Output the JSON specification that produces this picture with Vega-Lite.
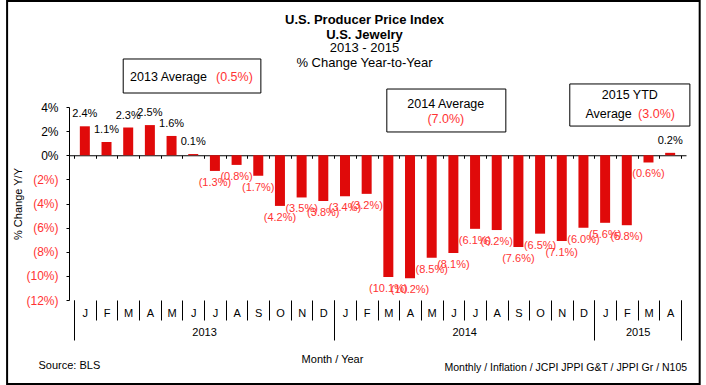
{
  "$schema": "https://vega.github.io/schema/vega-lite/v6.json",
  "width": 617,
  "height": 193,
  "autosize": {"type": "none"},
  "padding": {"left": 69, "top": 107, "right": 20, "bottom": 85},
  "background": "white",
  "config": {
    "font": "Liberation Sans",
    "view": {"stroke": null},
    "axis": {"grid": false, "labelFont": "Liberation Sans", "titleFont": "Liberation Sans", "labelColor": "black", "titleColor": "black", "tickColor": "black", "domainColor": "black", "titleFontWeight": "normal", "labelFlush": false, "labelOverlap": false}
  },
  "title": {
    "text": ["U.S. Producer Price Index", "U.S. Jewelry"],
    "subtitle": ["2013 - 2015", "% Change Year-to-Year"],
    "font": "Liberation Sans",
    "fontSize": 13,
    "fontWeight": "bold",
    "color": "black",
    "lineHeight": 15,
    "subtitleFont": "Liberation Sans",
    "subtitleFontSize": 13,
    "subtitleColor": "black",
    "subtitleLineHeight": 15,
    "subtitlePadding": 0,
    "anchor": "middle",
    "dx": -13,
    "offset": -70
  },
  "datasets": {
    "ppi": [
      {"month_no": 0, "month": "J", "year": "2013", "pct": 2.4, "label": "2.4%"},
      {"month_no": 1, "month": "F", "year": "2013", "pct": 1.1, "label": "1.1%"},
      {"month_no": 2, "month": "M", "year": "2013", "pct": 2.3, "label": "2.3%"},
      {"month_no": 3, "month": "A", "year": "2013", "pct": 2.5, "label": "2.5%"},
      {"month_no": 4, "month": "M", "year": "2013", "pct": 1.6, "label": "1.6%"},
      {"month_no": 5, "month": "J", "year": "2013", "pct": 0.1, "label": "0.1%"},
      {"month_no": 6, "month": "J", "year": "2013", "pct": -1.3, "label": "(1.3%)"},
      {"month_no": 7, "month": "A", "year": "2013", "pct": -0.8, "label": "(0.8%)"},
      {"month_no": 8, "month": "S", "year": "2013", "pct": -1.7, "label": "(1.7%)"},
      {"month_no": 9, "month": "O", "year": "2013", "pct": -4.2, "label": "(4.2%)"},
      {"month_no": 10, "month": "N", "year": "2013", "pct": -3.5, "label": "(3.5%)"},
      {"month_no": 11, "month": "D", "year": "2013", "pct": -3.8, "label": "(3.8%)"},
      {"month_no": 12, "month": "J", "year": "2014", "pct": -3.4, "label": "(3.4%)"},
      {"month_no": 13, "month": "F", "year": "2014", "pct": -3.2, "label": "(3.2%)"},
      {"month_no": 14, "month": "M", "year": "2014", "pct": -10.1, "label": "(10.1%)"},
      {"month_no": 15, "month": "A", "year": "2014", "pct": -10.2, "label": "(10.2%)"},
      {"month_no": 16, "month": "M", "year": "2014", "pct": -8.5, "label": "(8.5%)"},
      {"month_no": 17, "month": "J", "year": "2014", "pct": -8.1, "label": "(8.1%)"},
      {"month_no": 18, "month": "J", "year": "2014", "pct": -6.1, "label": "(6.1%)"},
      {"month_no": 19, "month": "A", "year": "2014", "pct": -6.2, "label": "(6.2%)"},
      {"month_no": 20, "month": "S", "year": "2014", "pct": -7.6, "label": "(7.6%)"},
      {"month_no": 21, "month": "O", "year": "2014", "pct": -6.5, "label": "(6.5%)"},
      {"month_no": 22, "month": "N", "year": "2014", "pct": -7.1, "label": "(7.1%)"},
      {"month_no": 23, "month": "D", "year": "2014", "pct": -6.0, "label": "(6.0%)"},
      {"month_no": 24, "month": "J", "year": "2015", "pct": -5.6, "label": "(5.6%)"},
      {"month_no": 25, "month": "F", "year": "2015", "pct": -5.8, "label": "(5.8%)"},
      {"month_no": 26, "month": "M", "year": "2015", "pct": -0.6, "label": "(0.6%)"},
      {"month_no": 27, "month": "A", "year": "2015", "pct": 0.2, "label": "0.2%"}
    ],
    "notes": [
      {"x": 3.86, "y": 6.49, "text": "2013 Average", "kind": "label"},
      {"x": 6.9, "y": 6.49, "text": "(0.5%)", "kind": "value"},
      {"x": 16.65, "y": 4.25, "text": "2014 Average", "kind": "label"},
      {"x": 16.65, "y": 3.01, "text": "(7.0%)", "kind": "value"},
      {"x": 25.14, "y": 4.99, "text": "2015 YTD", "kind": "label"},
      {"x": 24.16, "y": 3.42, "text": "Average", "kind": "label"},
      {"x": 26.37, "y": 3.42, "text": "(3.0%)", "kind": "value"}
    ],
    "boxes": [
      {"x_left": 1.77, "x_right": 8.12, "y_top": 7.98, "y_bottom": 5.16},
      {"x_left": 13.93, "x_right": 19.42, "y_top": 5.49, "y_bottom": 1.93},
      {"x_left": 22.37, "x_right": 27.91, "y_top": 5.91, "y_bottom": 2.42}
    ]
  },
  "layer": [
    {
      "data": {"values": [{}]},
      "mark": {"type": "rect", "fill": null, "stroke": "black", "strokeWidth": 2},
      "encoding": {
        "x": {"datum": -3.586, "type": "quantitative", "axis": null, "scale": {"domain": [-0.5, 27.5], "nice": false, "zero": false}},
        "x2": {"datum": 28.362},
        "y": {"datum": 12.788, "type": "quantitative", "axis": null, "scale": {"domain": [-12, 4], "nice": false, "zero": false}},
        "y2": {"datum": -18.963}
      }
    },
    {
      "data": {"name": "ppi"},
      "mark": {"type": "bar", "orient": "vertical", "width": 10, "color": "#E00A0A"},
      "encoding": {
        "x": {
          "field": "month_no", "type": "quantitative",
          "scale": {"domain": [-0.5, 27.5], "nice": false, "zero": false},
          "axis": {"orient": "bottom", "values": [0,1,2,3,4,5,6,7,8,9,10,11,12,13,14,15,16,17,18,19,20,21,22,23,24,25,26,27], "labelExpr": "['J','F','M','A','M','J','J','A','S','O','N','D'][datum.value % 12]", "ticks": false, "domain": false, "labelPadding": 7, "labelFontSize": 11, "labelAngle": 0, "title": null}
        },
        "y": {
          "field": "pct", "type": "quantitative", "stack": null,
          "scale": {"domain": [-12, 4], "nice": false, "zero": false},
          "axis": {"values": [-12,-10,-8,-6,-4,-2,0,2,4], "labelExpr": "datum.value < 0 ? '(' + abs(datum.value) + '%)' : datum.value + '%'", "labelColor": {"condition": {"test": "datum.value < 0", "value": "#FF3333"}, "value": "black"}, "labelFontSize": 12, "tickSize": 3, "labelPadding": 8, "title": "% Change Y/Y", "titleFontSize": 11, "titlePadding": 2}
        }
      }
    },
    {
      "data": {"name": "boxes"},
      "mark": {"type": "rect", "fill": "white", "stroke": "black", "strokeWidth": 1},
      "encoding": {
        "x": {"field": "x_left", "type": "quantitative", "scale": {"domain": [-0.5, 27.5], "nice": false, "zero": false},
          "axis": {"orient": "bottom", "values": [5.5, 17.5, 25.5], "labelExpr": "datum.value < 11.5 ? '2013' : datum.value < 23.5 ? '2014' : '2015'", "ticks": false, "domain": false, "labelPadding": 26, "labelFontSize": 11, "labelAngle": 0,
            "title": "Monthly / Inflation / JCPI JPPI G&T / JPPI Gr / N105", "titleX": 375, "titleY": 67, "titleAlign": "left", "titleBaseline": "middle", "titleFontSize": 10.5}},
        "x2": {"field": "x_right"},
        "y": {"field": "y_top", "type": "quantitative", "axis": null, "scale": {"domain": [-12, 4], "nice": false, "zero": false}},
        "y2": {"field": "y_bottom"}
      }
    },
    {
      "data": {"name": "ppi"},
      "transform": [{"filter": "datum.pct >= 0"}],
      "mark": {"type": "text", "dy": -12, "fontSize": 11, "color": "black", "baseline": "middle"},
      "encoding": {
        "x": {"field": "month_no", "type": "quantitative", "scale": {"domain": [-0.5, 27.5], "nice": false, "zero": false},
          "axis": {"orient": "bottom", "offset": -144.75, "values": [-0.5,0.5,1.5,2.5,3.5,4.5,5.5,6.5,7.5,8.5,9.5,10.5,11.5,12.5,13.5,14.5,15.5,16.5,17.5,18.5,19.5,20.5,21.5,22.5,23.5,24.5,25.5,26.5,27.5], "labels": false, "tickSize": 3, "domain": true, "title": null}},
        "y": {"field": "pct", "type": "quantitative", "axis": null, "scale": {"domain": [-12, 4], "nice": false, "zero": false}},
        "text": {"field": "label"}
      }
    },
    {
      "data": {"name": "ppi"},
      "transform": [{"filter": "datum.pct < 0"}],
      "mark": {"type": "text", "dy": 12, "fontSize": 11, "color": "#FF3333", "baseline": "middle"},
      "encoding": {
        "x": {"field": "month_no", "type": "quantitative", "scale": {"domain": [-0.5, 27.5], "nice": false, "zero": false},
          "axis": {"orient": "bottom", "values": [-0.5,0.5,1.5,2.5,3.5,4.5,5.5,6.5,7.5,8.5,9.5,10.5,11.5,12.5,13.5,14.5,15.5,16.5,17.5,18.5,19.5,20.5,21.5,22.5,23.5,24.5,25.5,26.5,27.5], "labels": false, "tickSize": 20, "domain": false,
            "title": "Month / Year", "titleX": 263, "titleY": 59, "titleAlign": "center", "titleBaseline": "middle", "titleFontSize": 11}},
        "y": {"field": "pct", "type": "quantitative", "axis": null, "scale": {"domain": [-12, 4], "nice": false, "zero": false}},
        "text": {"field": "label"}
      }
    },
    {
      "data": {"name": "notes"},
      "mark": {"type": "text", "fontSize": 12.5, "baseline": "middle"},
      "encoding": {
        "x": {"field": "x", "type": "quantitative", "scale": {"domain": [-0.5, 27.5], "nice": false, "zero": false},
          "axis": {"orient": "bottom", "values": [-0.5, 11.5, 23.5, 27.5], "labels": false, "tickSize": 40, "domain": false,
            "title": "Source:  BLS", "titleX": -31, "titleY": 65, "titleAlign": "left", "titleBaseline": "middle", "titleFontSize": 11}},
        "y": {"field": "y", "type": "quantitative", "axis": null, "scale": {"domain": [-12, 4], "nice": false, "zero": false}},
        "text": {"field": "text"},
        "color": {"field": "kind", "type": "nominal", "scale": {"domain": ["label", "value"], "range": ["black", "#FF3333"]}, "legend": null}
      }
    }
  ],
  "resolve": {"axis": {"x": "independent", "y": "independent"}}
}
